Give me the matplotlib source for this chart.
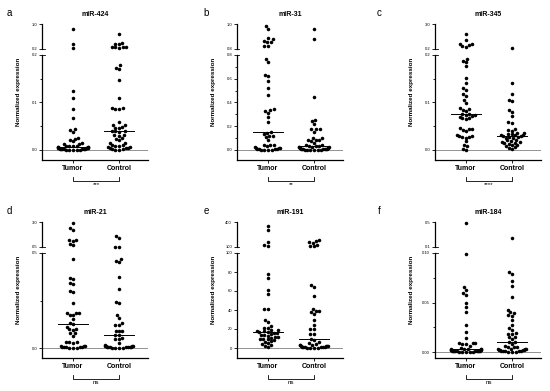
import numpy as np
import matplotlib
matplotlib.use("Agg")
import matplotlib.pyplot as plt
import matplotlib.transforms as mtransforms
from matplotlib.lines import Line2D

plt.rcParams['font.family'] = ['Liberation Sans', 'DejaVu Sans']

# panel info
groups = ['Tumor', 'Control']
letters = ['a', 'b', 'c', 'd', 'e', 'f']
titles = ['miR-424', 'miR-31', 'miR-345', 'miR-21', 'miR-191', 'miR-184']
signif = ['***', '**', '****', 'ns', 'ns', 'ns']

# normalized expression values
tumor_424 = [0.83, 0.37, 0.22, 0.125, 0.110, 0.087, 0.068, 0.044, 0.042, 0.038, 0.025, 0.024,
             0.020, 0.018, 0.014, 0.013, 0.012, 0.009, 0.009, 0.008, 0.008, 0.0065, 0.006, 0.0058,
             0.0055, 0.005, 0.0048, 0.0045, 0.0042, 0.004, 0.0036, 0.0033, 0.003, 0.0027, 0.0024,
             0.0021, 0.0018, 0.0015, 0.0012, 0.001, 0.0008, 0.0006, 0.0004, 0.0002]
control_424 = [0.68, 0.39, 0.37, 0.36, 0.27, 0.26, 0.25, 0.25, 0.24, 0.178, 0.173, 0.171, 0.148,
               0.109, 0.088, 0.088, 0.087, 0.087, 0.059, 0.053, 0.052, 0.048, 0.047, 0.046, 0.040,
               0.039, 0.039, 0.038, 0.032, 0.031, 0.030, 0.025, 0.024, 0.022, 0.015, 0.014, 0.010,
               0.010, 0.009, 0.009, 0.006, 0.006, 0.005, 0.005, 0.004, 0.002, 0.002, 0.001, 0.001]

tumor_31 = [0.984, 0.958, 0.887, 0.879, 0.861, 0.858, 0.853, 0.826, 0.825, 0.767, 0.744, 0.63,
            0.625, 0.583, 0.525, 0.461, 0.347, 0.336, 0.33, 0.314, 0.275, 0.239, 0.153, 0.14,
            0.135, 0.12, 0.115, 0.11, 0.086, 0.044, 0.042, 0.04, 0.03, 0.025, 0.02, 0.017, 0.014,
            0.011, 0.009, 0.007, 0.005, 0.004, 0.003, 0.002, 0.001]
control_31 = [0.958, 0.879, 0.447, 0.253, 0.244, 0.22, 0.18, 0.178, 0.176, 0.155, 0.10, 0.098,
              0.088, 0.086, 0.084, 0.072, 0.058, 0.045, 0.04, 0.036, 0.033, 0.03, 0.028, 0.026,
              0.024, 0.022, 0.02, 0.018, 0.016, 0.014, 0.012, 0.011, 0.01, 0.009, 0.008, 0.006,
              0.005, 0.004, 0.003, 0.002, 0.0015, 0.001, 0.0005]

tumor_345 = [1.9, 1.16, 0.8, 0.75, 0.6, 0.5, 0.45, 0.192, 0.187, 0.185, 0.176, 0.152, 0.142, 0.13,
             0.127, 0.118, 0.113, 0.105, 0.099, 0.088, 0.086, 0.084, 0.082, 0.076, 0.075, 0.074,
             0.073, 0.072, 0.070, 0.068, 0.067, 0.066, 0.046, 0.045, 0.044, 0.043, 0.039, 0.031,
             0.030, 0.029, 0.028, 0.027, 0.026, 0.018, 0.01, 0.008, 0.003, 0.001]
control_345 = [0.31, 0.141, 0.118, 0.106, 0.104, 0.085, 0.081, 0.071, 0.058, 0.057, 0.044, 0.042,
               0.041, 0.036, 0.035, 0.034, 0.033, 0.032, 0.031, 0.031, 0.030, 0.029, 0.028, 0.027,
               0.026, 0.025, 0.022, 0.020, 0.018, 0.017, 0.016, 0.015, 0.014, 0.013, 0.011, 0.010,
               0.008, 0.006, 0.004, 0.002]

tumor_21 = [2.95, 2.4, 2.2, 1.2, 1.18, 1.15, 0.8, 0.75, 0.47, 0.37, 0.365, 0.34, 0.335, 0.30,
            0.295, 0.237, 0.186, 0.184, 0.182, 0.175, 0.172, 0.153, 0.13, 0.126, 0.11, 0.1, 0.098,
            0.096, 0.08, 0.078, 0.065, 0.032, 0.030, 0.029, 0.028, 0.012, 0.01, 0.008, 0.007,
            0.006, 0.005, 0.004, 0.003, 0.002, 0.001, 0.0005]
control_21 = [1.63, 1.43, 0.54, 0.53, 0.468, 0.458, 0.452, 0.375, 0.31, 0.24, 0.235, 0.174, 0.16,
              0.13, 0.121, 0.119, 0.092, 0.09, 0.087, 0.07, 0.068, 0.053, 0.05, 0.048, 0.026,
              0.015, 0.012, 0.01, 0.009, 0.008, 0.007, 0.006, 0.005, 0.0045, 0.004, 0.0035,
              0.003, 0.0025, 0.002, 0.0015, 0.001]

tumor_191 = [353, 310, 166, 122, 118, 78, 74, 61, 57, 41.5, 41, 29, 27, 23, 21.5, 21, 19, 18.5,
             18, 17.5, 17, 16.5, 16, 15.5, 15, 14, 13.5, 13, 12, 11.5, 11, 10, 9.5, 9, 8, 7, 6,
             5, 4, 3, 2, 1]
control_191 = [185, 175, 165, 150, 130, 115, 110, 66, 64, 55, 41, 39, 38.5, 38, 35.5, 30, 24, 20,
               19.5, 15, 14.5, 9, 8, 6, 5, 4, 3.5, 3, 2.8, 2.5, 2.2, 2, 1.8, 1.5, 1.3, 1.1, 1,
               0.8, 0.6, 0.5, 0.3, 0.2, 0.1]

tumor_184 = [0.49, 0.099, 0.0655, 0.0626, 0.060, 0.0576, 0.050, 0.045, 0.0407, 0.027, 0.020,
             0.0145, 0.009, 0.0088, 0.0086, 0.0085, 0.0084, 0.006, 0.004, 0.0035, 0.0033, 0.003,
             0.0028, 0.0026, 0.0024, 0.0022, 0.002, 0.0018, 0.0016, 0.0015, 0.0014, 0.0013,
             0.0012, 0.0011, 0.001, 0.0009, 0.0008, 0.0007, 0.0006, 0.0005, 0.0004, 0.0003,
             0.0002, 0.0001]
control_184 = [0.24, 0.081, 0.0787, 0.072, 0.067, 0.056, 0.042, 0.040, 0.0395, 0.037, 0.0365,
               0.032, 0.027, 0.024, 0.022, 0.0187, 0.0185, 0.018, 0.0153, 0.015, 0.013, 0.010,
               0.0098, 0.008, 0.006, 0.0055, 0.005, 0.0048, 0.0035, 0.0032, 0.003, 0.0028,
               0.0025, 0.0022, 0.002, 0.0018, 0.0015, 0.0012, 0.001, 0.0008, 0.0006, 0.0004,
               0.0002, 0.0001]

tumor_all = [tumor_424, tumor_31, tumor_345, tumor_21, tumor_191, tumor_184]
control_all = [control_424, control_31, control_345, control_21, control_191, control_184]

# broken axis: upper segment (break, top), lower segment 0..break
upper_ranges = [(0.2, 1.0), (0.8, 1.0), (0.2, 3.0), (0.5, 3.0), (100, 400), (0.1, 0.5)]
upper_labels = [('0.2', '1.0'), ('0.8', '1.0'), ('0.2', '3.0'), ('0.5', '3.0'), ('100', '400'), ('0.1', '0.5')]
lower_major = [[0, 0.1, 0.2], [0, 0.2, 0.4, 0.6, 0.8], [0, 0.1, 0.2], [0, 0.5],
               [0, 20, 40, 60, 80, 100], [0, 0.05, 0.10]]
lower_minor = [[0.05, 0.15], [0.1, 0.3, 0.5, 0.7], [0.05, 0.15], [0.25], [], [0.025, 0.075]]
lower_fmt = ['%.1f', '%.1f', '%.1f', '%.1f', '%d', '%.2f']

W, H = 550, 391
DOT = 3.6     # swarm spacing in pixels
MAXW = 15.0   # half width of a swarm in pixels


def swarm(ypix, d):
    # simple beeswarm: place points from low to high, closest to centre without overlap,
    # then squeeze wide rows so they pile up at the sides like prism does
    ypix = np.asarray(ypix, dtype=float)
    xs = np.zeros(len(ypix))
    placed = []
    for i in np.argsort(ypix, kind='stable'):
        y = ypix[i]
        cands = [0.0]
        for (xj, yj) in placed:
            dy = y - yj
            if abs(dy) < d:
                dx = np.sqrt(d * d - dy * dy)
                cands += [xj + dx, xj - dx]
        cands.sort(key=lambda c: (abs(c), c))
        for c in cands:
            if all((c - xj) ** 2 + (y - yj) ** 2 >= d * d - 1e-6 for (xj, yj) in placed):
                xs[i] = c
                break
        placed.append((xs[i], y))
    return MAXW * np.tanh(xs / MAXW)


def add_px_axes(fig, x, ytop, w, h):
    return fig.add_axes([x / W, 1 - (ytop + h) / H, w / W, h / H])


fig = plt.figure(figsize=(5.5, 3.91), dpi=100)

col_x = [42, 237, 435]
letter_x = [9, 206, 379]
ax_w = 106
unit = 46.0
xlim = (-31 / unit, 1 + (ax_w - 31 - unit) / unit)

for i in range(6):
    col, row = i % 3, i // 3
    x0 = col_x[col]
    off = row * 198
    lo, hi = upper_ranges[i]
    zpx = 6 if i == 5 else 10
    ybot = -lo * zpx / (105 - zpx)

    axu = add_px_axes(fig, x0, 24 + off, ax_w, 25)
    axl = add_px_axes(fig, x0, 55 + off, ax_w, 105)
    axu.set_ylim(lo, hi)
    axl.set_ylim(ybot, lo)
    for ax in (axu, axl):
        ax.set_xlim(*xlim)
        ax.patch.set_visible(False)
        for s in ax.spines.values():
            s.set_linewidth(0.9)
        ax.spines['top'].set_visible(False)
        ax.spines['right'].set_visible(False)
    axu.spines['bottom'].set_visible(False)

    for g, vals in enumerate([tumor_all[i], control_all[i]]):
        v = np.array(vals)
        low = v[v <= lo]
        up = v[v > lo]
        xl = g + swarm(low * 105 / (lo - ybot), DOT) / unit
        axl.scatter(xl, low, s=6.5, c='black', linewidths=0, clip_on=False, zorder=3)
        if len(up):
            xu = g + swarm(up * 25 / (hi - lo), DOT) / unit
            axu.scatter(xu, up, s=6.5, c='black', linewidths=0, clip_on=False, zorder=3)
        med = np.median(v)
        axl.plot([g - 0.33, g + 0.33], [med, med], color='black', lw=0.7, zorder=2)

    axl.axhline(0, color='black', ls=(0, (1.2, 1.2)), lw=0.6, zorder=1)

    # ticks
    axl.set_yticks(lower_major[i])
    axl.set_yticklabels([lower_fmt[i] % t for t in lower_major[i]])
    axl.set_yticks(lower_minor[i], minor=True)
    axl.tick_params(axis='y', which='major', length=2.5, width=0.6, labelsize=3, pad=1)
    axl.tick_params(axis='y', which='minor', length=1.8, width=0.6)
    axl.set_xticks([0, 1])
    axl.set_xticklabels(groups, fontsize=5, fontweight='bold')
    axl.tick_params(axis='x', length=2, width=0.6, pad=1.5)
    axu.set_xticks([])
    axu.set_yticks([lo, hi])
    axu.set_yticklabels(list(upper_labels[i]))
    axu.tick_params(axis='y', length=2.5, width=0.6, labelsize=3, pad=1)

    # break marks on the spine
    for yb in (1 - (49 + off) / H, 1 - (55 + off) / H):
        fig.add_artist(Line2D([x0 / W, (x0 + 2.5) / W], [yb, yb], color='black', lw=0.6))

    # labels
    fig.text((x0 - 23) / W, 1 - (92 + off) / H, 'Normalized expression', rotation=90,
             fontsize=4.5, fontweight='bold', ha='center', va='center')
    fig.text((x0 + ax_w / 2) / W, 1 - (14 + off) / H, titles[i], fontsize=5,
             fontweight='bold', ha='center', va='center')
    fig.text(letter_x[col] / W, 1 - (13 + off) / H, letters[i], fontsize=7,
             ha='center', va='center')

    # significance bracket
    blend = mtransforms.blended_transform_factory(axl.transData, fig.transFigure)
    yb0 = 1 - (181 + off) / H
    yb1 = 1 - (177 + off) / H
    fig.add_artist(Line2D([0, 0, 1, 1], [yb1, yb0, yb0, yb1], transform=blend,
                          color='black', lw=0.6))
    fig.text(0.5, 1 - (182 + off) / H, signif[i], transform=blend, fontsize=4.5,
             ha='center', va='top')

fig.savefig('out.png', dpi=100)
